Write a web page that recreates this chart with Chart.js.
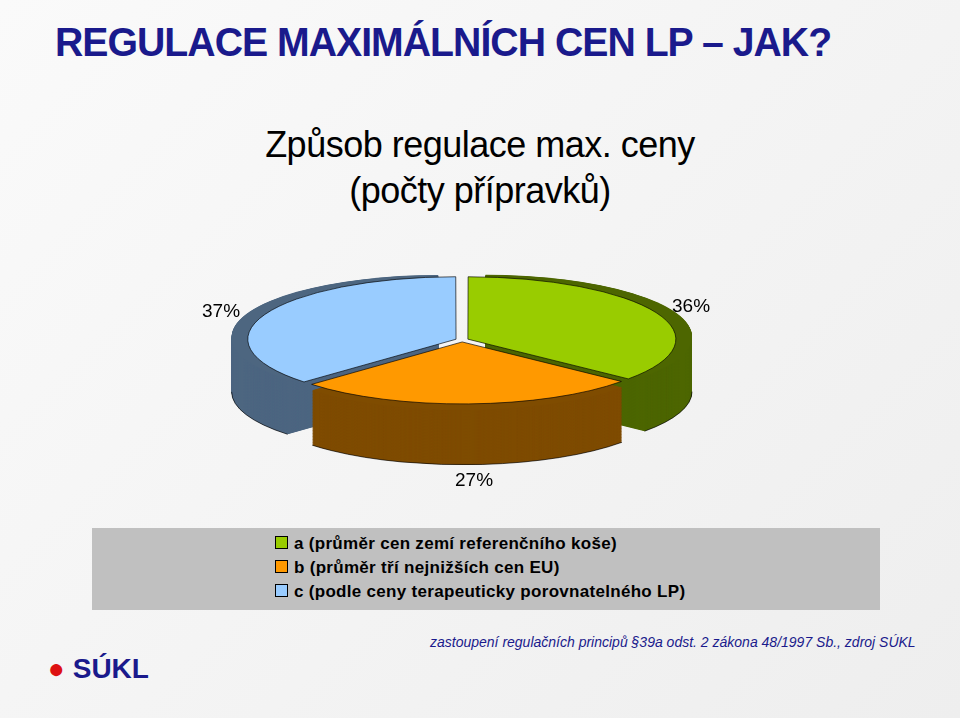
<!DOCTYPE html>
<html><head><meta charset="utf-8">
<script src="https://cdn.jsdelivr.net/npm/chart.js@4"></script>
<style>
body{margin:0;width:960px;height:718px;overflow:hidden;background:linear-gradient(135deg,#fafafa,#eeeeee);font-family:"Liberation Sans",Arial,sans-serif;position:relative}
#h{position:absolute;left:55px;top:20px;font-size:40px;font-weight:bold;color:#1a1a8c;letter-spacing:-1px;transform:scaleX(0.98);transform-origin:left}
#t{position:absolute;left:0;width:960px;top:122px;text-align:center;font-size:36px;line-height:46px;color:#000;letter-spacing:-0.5px}
.p{position:absolute;font-size:19px;color:#000}
#wrap{position:absolute;left:-18px;top:120px;width:960px;height:440px}
#leg{position:absolute;left:92px;top:528px;width:788px;height:82px;background:#c0c0c0}
.li{position:absolute;left:183px;font-size:17px;font-weight:bold;letter-spacing:0.3px}
.sw{display:inline-block;width:11px;height:11px;border:1px solid #000;margin-right:6px}
#src{position:absolute;left:430px;top:634px;font-size:14px;font-style:italic;color:#1a1a8c}
#logo{position:absolute;left:48px;top:653px;font-size:28px;font-weight:bold;color:#1a1a8c}
</style></head><body>
<div id="h">REGULACE MAXIMÁLNÍCH CEN LP – JAK?</div>
<div id="t">Způsob regulace max. ceny<br>(počty přípravků)</div>
<div id="wrap"><canvas id="c"></canvas></div>
<div class="p" style="left:202px;top:300px">37%</div>
<div class="p" style="left:672px;top:295px">36%</div>
<div class="p" style="left:455px;top:469px">27%</div>
<div id="leg"></div>
<div id="src">zastoupení regulačních principů §39a odst. 2 zákona 48/1997 Sb., zdroj SÚKL</div>
<div id="logo"><span style="color:#d11">●</span> SÚKL</div>
<script>
const labels = ['a (průměr cen zemí referenčního koše)', 'b (průměr tří nejnižších cen EU)', 'c (podle ceny terapeuticky porovnatelného LP)'];
const values = [36, 27, 37];
const topColors = ['#99cc00', '#ff9900', '#99ccff'];
const sideColors = ['#4d6600', '#7f4c00', '#4d6680'];

const leg = document.getElementById('leg');
labels.forEach((l, i) => {
  const d = document.createElement('div');
  d.className = 'li';
  d.style.top = (6 + i * 24) + 'px';
  d.innerHTML = '<span class="sw" style="background:' + topColors[i] + '"></span>' + l;
  leg.appendChild(d);
});

const SQ = 0.3, DEPTH = 55, OFF = 26;
const pie3d = {
  id: 'pie3d',
  beforeDatasetsDraw(chart) {
    const ctx = chart.ctx, arcs = chart.getDatasetMeta(0).data;
    const cx = arcs[0].x, cy = arcs[0].y;
    ctx.save();
    ctx.translate(cx, cy); ctx.scale(1, SQ); ctx.translate(-cx, -cy);
    const d = DEPTH / SQ;
    for (let k = d; k > 0; k -= 1) {
      arcs.forEach((a, i) => {
        const mid = (a.startAngle + a.endAngle) / 2;
        const ox = a.x + Math.cos(mid) * OFF, oy = a.y + Math.sin(mid) * OFF + k;
        ctx.beginPath(); ctx.moveTo(ox, oy);
        ctx.arc(ox, oy, a.outerRadius, a.startAngle, a.endAngle);
        ctx.closePath(); ctx.fillStyle = sideColors[i]; ctx.fill();
      });
    }
    arcs.forEach((a) => {
      const mid = (a.startAngle + a.endAngle) / 2;
      const ox = a.x + Math.cos(mid) * OFF, oy = a.y + Math.sin(mid) * OFF + d;
      ctx.beginPath(); ctx.arc(ox, oy, a.outerRadius, Math.max(a.startAngle, 0), Math.min(a.endAngle, Math.PI));
      ctx.lineWidth = 1; ctx.strokeStyle = '#000'; ctx.stroke();
    });
  },
  afterDatasetsDraw(chart) { chart.ctx.restore(); }
};

new Chart(document.getElementById('c'), {
  type: 'pie',
  data: { labels: labels, datasets: [{ data: values, backgroundColor: topColors, borderColor: '#000', borderWidth: 1, offset: OFF }] },
  options: {
    responsive: true, maintainAspectRatio: false, animation: false,
    plugins: { legend: { display: false }, tooltip: { enabled: false } }
  },
  plugins: [pie3d]
});
</script>
</body></html>
